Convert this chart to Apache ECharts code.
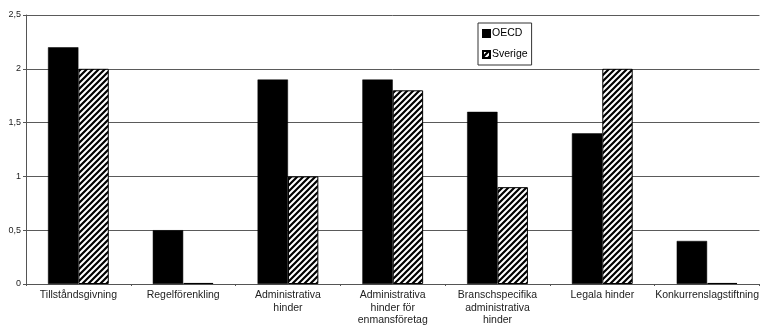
<!DOCTYPE html>
<html>
<head>
<meta charset="utf-8">
<script src="https://cdn.jsdelivr.net/npm/echarts@6/dist/echarts.min.js"></script>
<style>
  html, body { margin: 0; padding: 0; background: #fff; }
  #chart { width: 762px; height: 327px; }
</style>
</head>
<body>
<div id="chart"></div>
<script>
// Categories and the two series compared
const categories = [
  'Tillståndsgivning',
  'Regelförenkling',
  'Administrativa\nhinder',
  'Administrativa\nhinder för\nenmansföretag',
  'Branschspecifika\nadministrativa\nhinder',
  'Legala hinder',
  'Konkurrenslagstiftning'
];
const oecdValues = [2.2, 0.5, 1.9, 1.9, 1.6, 1.4, 0.4];
const sverigeValues = [2.0, 0.01, 1.0, 1.8, 0.9, 2.0, 0.01];
const yTicks = [0, 0.5, 1, 1.5, 2, 2.5];

// Diagonal hatch tile for the Sverige bars
function hatchPattern() {
  const s = 6;
  const c = document.createElement('canvas');
  c.width = s; c.height = s;
  const ctx = c.getContext('2d');
  ctx.fillStyle = '#fff';
  ctx.fillRect(0, 0, s, s);
  ctx.strokeStyle = '#000';
  ctx.lineWidth = 2.2;
  ctx.beginPath();
  ctx.moveTo(-1, s + 1); ctx.lineTo(s + 1, -1);
  ctx.moveTo(-1, 1); ctx.lineTo(1, -1);
  ctx.moveTo(s - 1, s + 1); ctx.lineTo(s + 1, s - 1);
  ctx.stroke();
  return c;
}

const chart = echarts.init(document.getElementById('chart'), null, { renderer: 'canvas' });
const font = 'Liberation Sans, Arial, sans-serif';

chart.setOption({
  animation: false,
  textStyle: { fontFamily: font },
  grid: { left: 26, right: 2, top: 15, bottom: 43, containLabel: false },
  legend: {
    orient: 'vertical',
    left: 478,
    top: 23,
    itemWidth: 7,
    itemHeight: 7,
    itemGap: 10,
    padding: [5, 4, 5, 4],
    borderColor: '#333',
    borderWidth: 1,
    textStyle: { fontSize: 10.5, color: '#000', fontFamily: font, padding: [0, 0, 0, -3] },
    data: [
      { name: 'OECD', icon: 'rect' },
      { name: 'Sverige', icon: 'rect' }
    ]
  },
  xAxis: {
    type: 'category',
    data: categories,
    axisLine: { lineStyle: { color: '#555', width: 1 } },
    axisTick: { show: true, length: 2, lineStyle: { color: '#555' } },
    axisLabel: {
      color: '#222',
      fontSize: 10.5,
      lineHeight: 12.5,
      margin: 5,
      interval: 0,
      fontFamily: font
    },
    splitLine: { show: false }
  },
  yAxis: {
    type: 'value',
    min: yTicks[0],
    max: yTicks[yTicks.length - 1],
    interval: 0.5,
    axisLine: { show: true, lineStyle: { color: '#555', width: 1 } },
    axisTick: { show: true, length: 3, lineStyle: { color: '#555' } },
    axisLabel: {
      color: '#222',
      fontSize: 9,
      margin: 5,
      fontFamily: font,
      formatter: v => String(v).replace('.', ',')
    },
    splitLine: { show: true, lineStyle: { color: '#5a5a5a', width: 1 } }
  },
  series: [
    {
      name: 'OECD',
      type: 'bar',
      data: oecdValues,
      barGap: '0%',
      barCategoryGap: '42%',
      itemStyle: { color: '#000', borderColor: '#000', borderWidth: 0.5 }
    },
    {
      name: 'Sverige',
      type: 'bar',
      data: sverigeValues,
      itemStyle: {
        color: { image: hatchPattern(), repeat: 'repeat' },
        borderColor: '#000',
        borderWidth: 1
      }
    }
  ]
});
</script>
</body>
</html>
